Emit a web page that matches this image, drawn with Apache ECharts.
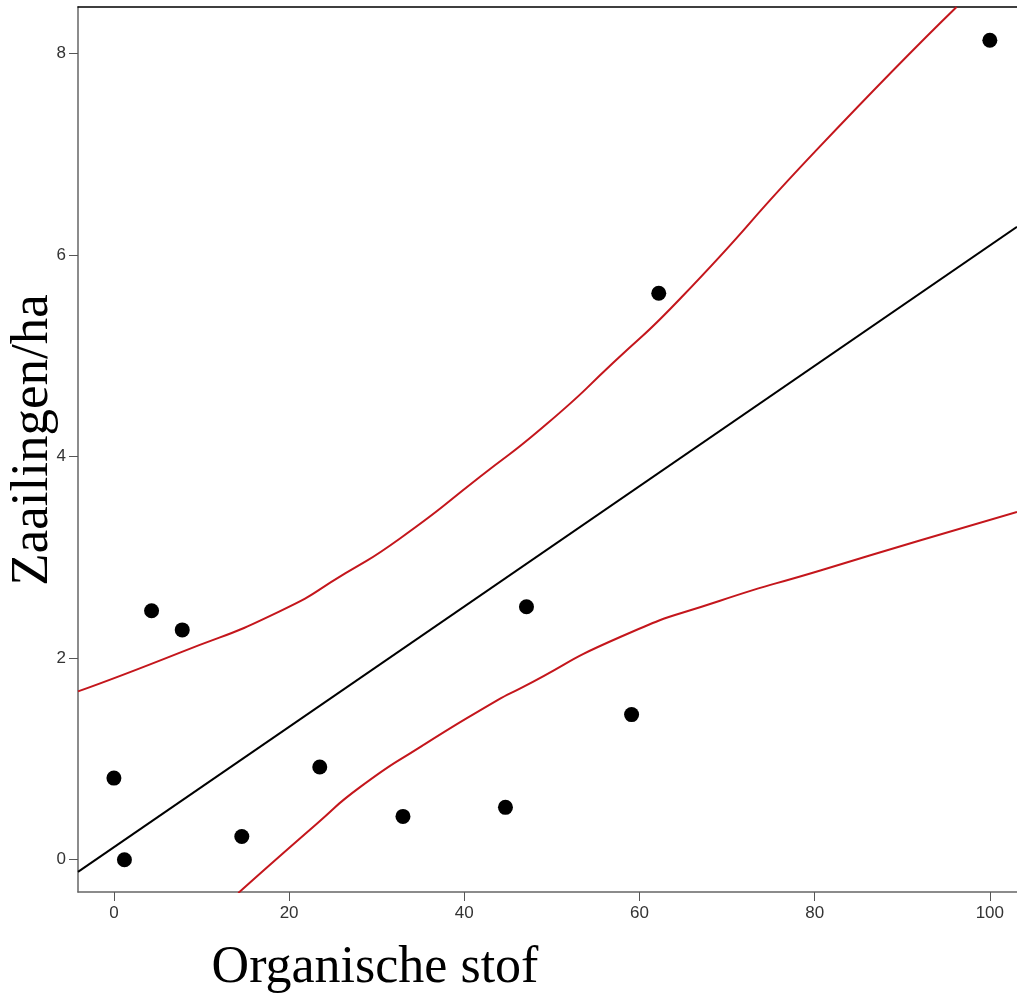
<!DOCTYPE html>
<html>
<head>
<meta charset="utf-8">
<script src="https://cdn.jsdelivr.net/npm/echarts@6/dist/echarts.min.js"></script>
<style>
html,body{margin:0;padding:0;background:#fff;}
#chart{width:1017px;height:996px;}
</style>
</head>
<body>
<div id="chart"></div>
<script>
// Tick labels
const xTicks = [0, 20, 40, 60, 80, 100];
const yTicks = [0, 2, 4, 6, 8];

// Observed points
const pointsX = [0, 1.2, 4.3, 7.8, 14.6, 23.5, 33.0, 44.7, 47.1, 59.1, 62.2, 100];
const pointsY = [0.81, 0.0, 2.47, 2.28, 0.23, 0.92, 0.43, 0.52, 2.51, 1.44, 5.62, 8.13];

// Fitted line
const fitX = [-4.1, 103.1];
const fitY = [-0.12, 6.28];

// Upper confidence band
const upperX = [-4.1, 7.4, 18.8, 26.4, 32.7, 41.8, 49.5, 57.0, 64.8, 80.2, 96.2];
const upperY = [1.67, 2.05, 2.46, 2.84, 3.19, 3.80, 4.33, 4.93, 5.58, 7.04, 8.46];

// Lower confidence band
const lowerX = [14.2, 23.2, 28.1, 35.0, 43.75, 46.4, 57.8, 69.2, 80.65, 92.1, 103.1];
const lowerY = [-0.33, 0.36, 0.72, 1.12, 1.58, 1.70, 2.21, 2.57, 2.87, 3.17, 3.45];

// Titles
const xTitle = 'Organische stof';
const yTitle = 'Zaailingen/ha';

const zip = (a, b) => a.map((v, i) => [v, b[i]]);

const labelStyle = {color: '#333', fontSize: 17, fontFamily: 'Liberation Sans'};

const chart = echarts.init(document.getElementById('chart'), null, {renderer: 'canvas'});
chart.setOption({
  animation: false,
  backgroundColor: '#fff',
  grid: {left: 78, top: 7, right: 0, bottom: 104, show: false},
  xAxis: [
    {
      type: 'value', min: -4.1, max: 103.1, position: 'bottom',
      splitLine: {show: false},
      axisLine: {show: true, onZero: false, lineStyle: {color: '#666', width: 1.5}},
      axisTick: {show: true, length: 9, customValues: xTicks, lineStyle: {color: '#555', width: 1}},
      axisLabel: Object.assign({customValues: xTicks, margin: 13}, labelStyle)
    },
    {
      type: 'value', min: -4.1, max: 103.1, position: 'top',
      splitLine: {show: false},
      axisLine: {show: true, onZero: false, lineStyle: {color: '#000', width: 1.5}},
      axisTick: {show: false},
      axisLabel: {show: false}
    }
  ],
  yAxis: {
    type: 'value', min: -0.32, max: 8.46,
    splitLine: {show: false},
    axisLine: {show: true, onZero: false, lineStyle: {color: '#666', width: 1.5}},
    axisTick: {show: true, length: 9, customValues: yTicks, lineStyle: {color: '#555', width: 1}},
    axisLabel: Object.assign({customValues: yTicks, margin: 12}, labelStyle)
  },
  series: [
    {
      type: 'line', data: zip(upperX, upperY), smooth: 0.6, symbol: 'none',
      lineStyle: {color: '#c4161c', width: 2}, clip: true, z: 2
    },
    {
      type: 'line', data: zip(lowerX, lowerY), smooth: 0.6, symbol: 'none',
      lineStyle: {color: '#c4161c', width: 2}, clip: true, z: 2
    },
    {
      type: 'line', data: zip(fitX, fitY), symbol: 'none',
      lineStyle: {color: '#000', width: 2}, clip: true, z: 2
    },
    {
      type: 'scatter', data: zip(pointsX, pointsY), symbol: 'circle', symbolSize: 15,
      itemStyle: {color: '#000', opacity: 1}, z: 3
    }
  ],
  graphic: [
    {
      type: 'text', x: 33, y: 440, rotation: Math.PI / 2,
      style: {text: yTitle, font: '53px "Liberation Serif"', fill: '#000',
              textAlign: 'center', textVerticalAlign: 'middle'}
    },
    {
      type: 'text', x: 375, y: 968,
      style: {text: xTitle, font: '52px "Liberation Serif"', fill: '#000',
              textAlign: 'center', textVerticalAlign: 'middle'}
    }
  ]
});
</script>
</body>
</html>
